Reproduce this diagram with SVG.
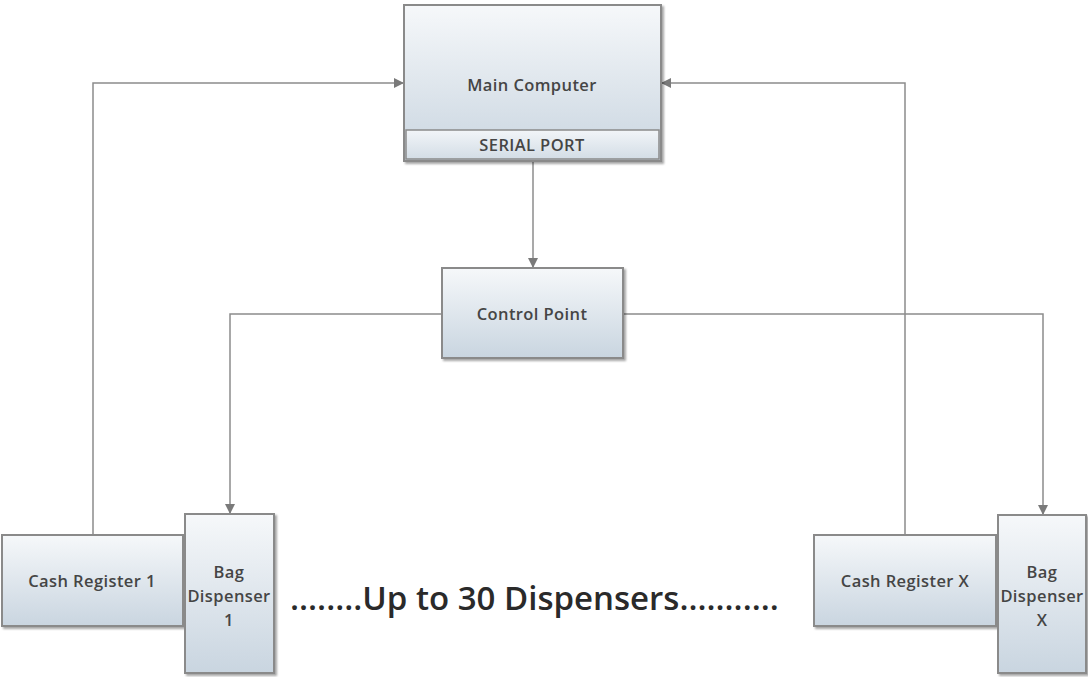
<svg xmlns="http://www.w3.org/2000/svg" width="1088" height="677" viewBox="0 0 1088 677">
<defs>
<linearGradient id="g" x1="0" y1="0" x2="0" y2="1">
<stop offset="0" stop-color="#f6f8fa"/>
<stop offset="1" stop-color="#c9d5e0"/>
</linearGradient>
<linearGradient id="g2" x1="0" y1="0" x2="0" y2="1">
<stop offset="0" stop-color="#f2f5f8"/>
<stop offset="1" stop-color="#d3dde6"/>
</linearGradient>
<filter id="sh" x="-10%" y="-10%" width="120%" height="120%">
<feDropShadow dx="2" dy="2" stdDeviation="1.2" flood-color="#000" flood-opacity="0.35"/>
</filter>
<marker id="ah" markerWidth="10" markerHeight="10" refX="9" refY="5" orient="auto" markerUnits="userSpaceOnUse">
<path d="M0,0 L10,5 L0,10 Z" fill="#7a7a7a"/>
</marker>
</defs>
<style>
.box{fill:url(#g);stroke:#8a8a8a;stroke-width:2;filter:url(#sh)}
.sub{fill:url(#g2);stroke:#8a8a8a;stroke-width:1.5}
.t{font-family:"Open Sans","Noto Sans",sans-serif;font-weight:600;font-size:16.5px;letter-spacing:0.4px;fill:#454545;text-anchor:middle}
.c{fill:none;stroke:#8c8c8c;stroke-width:1.5;marker-end:url(#ah)}
.big{font-family:"Open Sans","Noto Sans",sans-serif;font-weight:600;font-size:33px;fill:#2a2a2a}
</style>
<g id="connectors">
<path class="c" d="M93,535 V83 H403"/>
<path class="c" d="M905,535 V83 H662"/>
<path class="c" d="M533,162 V267"/>
<path class="c" d="M442,314 H230 V513"/>
<path class="c" d="M623,314 H1043 V514"/>
</g>
<g id="main-computer">
<rect class="box" x="404" y="5" width="257" height="156"/>
<rect class="sub" x="406" y="130" width="253" height="29"/>
<text class="t" x="532" y="91">Main Computer</text>
<text class="t" x="532" y="151" font-size="16">SERIAL PORT</text>
</g>
<g id="control-point">
<rect class="box" x="442" y="268" width="181" height="90"/>
<text class="t" x="532" y="320">Control Point</text>
</g>
<g id="cash-register-1">
<rect class="box" x="2" y="535" width="181" height="91"/>
<text class="t" x="92" y="587">Cash Register 1</text>
</g>
<g id="bag-dispenser-1">
<rect class="box" x="185" y="514" width="89" height="159"/>
<text class="t" x="229" y="578">Bag</text>
<text class="t" x="229" y="602">Dispenser</text>
<text class="t" x="229" y="626">1</text>
</g>
<g id="cash-register-x">
<rect class="box" x="814" y="535" width="182" height="91"/>
<text class="t" x="905" y="587">Cash Register X</text>
</g>
<g id="bag-dispenser-x">
<rect class="box" x="998" y="515" width="88" height="158"/>
<text class="t" x="1042" y="578">Bag</text>
<text class="t" x="1042" y="602">Dispenser</text>
<text class="t" x="1042" y="626">X</text>
</g>
<text class="big" x="290" y="610">........Up to 30 Dispensers...........</text>
</svg>
